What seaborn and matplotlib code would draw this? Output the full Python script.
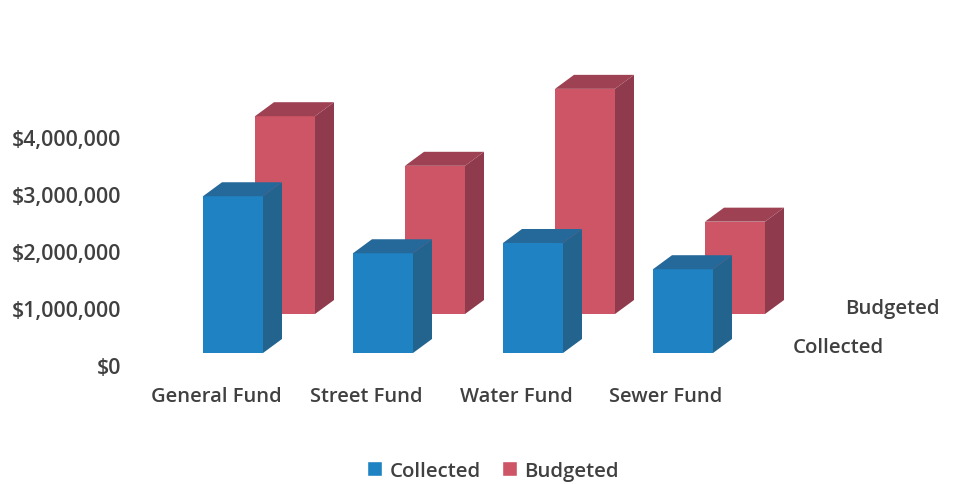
import matplotlib
matplotlib.use("Agg")
import matplotlib.pyplot as plt
import seaborn as sns
from matplotlib.patches import Patch, Polygon

funds = ["General Fund", "Street Fund", "Water Fund", "Sewer Fund"]
collected = [2750000, 1750000, 1930000, 1470000]
budgeted = [3470000, 2600000, 3950000, 1620000]
tick_values = [0, 1000000, 2000000, 3000000, 4000000]
tick_labels = ["$0", "$1,000,000", "$2,000,000", "$3,000,000", "$4,000,000"]
series_names = ["Collected", "Budgeted"]

W, H = 971, 485
TEXT = "#404040"
FONT = "Open Sans"

sns.set_theme(style="white")
plt.rcParams["font.family"] = [FONT, "DejaVu Sans"]


def px_axes(fig, left, right, top, bottom):
    # axes position given in picture pixels
    ax = fig.add_axes([left / W, 1 - bottom / H, (right - left) / W, (bottom - top) / H])
    ax.patch.set_alpha(0)
    return ax


def bar_axes(fig, left, baseline, values, front, side, top, zorder):
    ax = px_axes(fig, left, left + 600, baseline - 285, baseline)
    ax.set_zorder(zorder)
    sns.barplot(x=funds, y=values, color=front, saturation=1, width=0.4, linewidth=0, ax=ax)
    ax.set_xlim(-0.5, 3.5)
    ax.set_ylim(0, 5000000)
    ax.axis("off")

    # fake 3D depth: 19px across, 14px up
    dx = 19 / 150
    dy = 14 / 57 * 1000000
    for bar in list(ax.patches):
        x0 = bar.get_x()
        x1 = x0 + bar.get_width()
        h = bar.get_height()
        ax.add_patch(Polygon([(x1, 0), (x1 + dx, dy), (x1 + dx, h + dy), (x1, h)],
                             facecolor=side, edgecolor="none", linewidth=0, clip_on=False))
        ax.add_patch(Polygon([(x0, h), (x0 + dx, h + dy), (x1 + dx, h + dy), (x1, h)],
                             facecolor=top, edgecolor="none", linewidth=0, clip_on=False))
    return ax


fig = plt.figure(figsize=(W / 100, H / 100), dpi=100)

# axis with the tick labels, it sits apart from the bars like in the 3D chart
host = px_axes(fig, 141, 741, 138, 366)
host.set_xlim(-0.5, 3.5)
host.set_ylim(0, 4000000)
host.set_xticks(range(len(funds)))
host.set_xticklabels(funds, fontsize=14.5, fontweight=600, color=TEXT)
host.set_yticks(tick_values)
host.set_yticklabels(tick_labels, fontsize=15.4, fontweight=600, color=TEXT)
host.tick_params(axis="x", length=0, pad=15.2)
host.tick_params(axis="y", length=0, pad=14)
sns.despine(ax=host, left=True, bottom=True)

BLUE = ["#1F82C2", "#23648F", "#25689A"]
RED = ["#CE5566", "#8F3B4D", "#9E4153"]
bar_axes(fig, 210, 315, budgeted, RED[0], RED[1], RED[2], 2)
bar_axes(fig, 158, 354, collected, BLUE[0], BLUE[1], BLUE[2], 3)

# depth axis labels
fig.text(845 / W, 1 - 309 / H, series_names[1], fontsize=14.7, fontweight=600, color=TEXT, va="center")
fig.text(793 / W, 1 - 348 / H, series_names[0], fontsize=14.7, fontweight=600, color=TEXT, va="center")

handles = [Patch(facecolor=BLUE[0], label=series_names[0]), Patch(facecolor=RED[0], label=series_names[1])]
fig.legend(handles=handles, loc="center", bbox_to_anchor=(493 / W, 1 - 472 / H), ncol=2, frameon=False,
           handlelength=0.75, handleheight=0.75, handletextpad=0.35, columnspacing=1.05,
           labelcolor=TEXT, prop={"family": FONT, "size": 14.7, "weight": 600})

fig.savefig("out.png", dpi=100)
